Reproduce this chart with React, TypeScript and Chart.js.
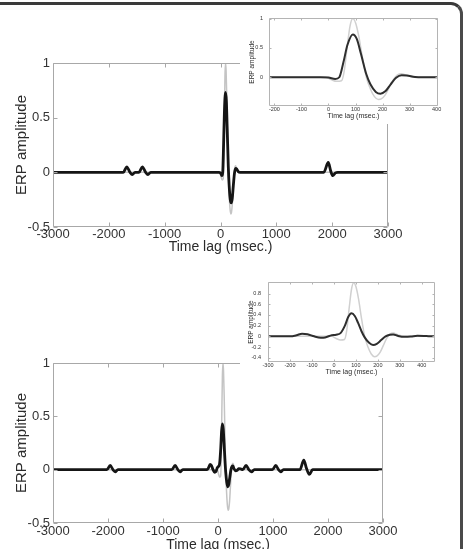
import React, { useEffect, useRef } from "react";
import { Chart, registerables } from "chart.js";

Chart.register(...registerables);

const FONT = '"Liberation Sans", Arial, Helvetica, sans-serif';

// ---- data (time lag in msec, ERP amplitude) ----
// true ERP waveform (light gray)
const erpTimes = [-3000, -300, -10, 10, 30, 48, 58, 70, 80, 90, 100, 112, 125, 140, 155, 170, 185, 195, 210, 225, 240, 255, 270, 290, 320, 460, 3000];
const erpValues = [0, 0, 0, -0.04, -0.07, -0.06, 0.1, 0.55, 0.88, 1.0, 0.93, 0.7, 0.35, 0.0, -0.2, -0.33, -0.38, -0.37, -0.3, -0.17, -0.04, 0.04, 0.06, 0.03, 0, 0, 0];

// estimated ERP, upper panel (black)
const estTopTimes = [-3000, -1740, -1680, -1620, -1580, -1530, -1460, -1400, -1340, -1300, -1250, -30, 0, 25, 40, 55, 70, 90, 105, 120, 140, 155, 175, 192, 210, 230, 250, 270, 290, 320, 350, 1850, 1930, 1975, 2010, 2060, 2100, 3000];
const estTopValues = [0, 0, 0.05, 0, -0.02, 0, 0, 0.05, 0, -0.02, 0, 0, -0.005, -0.03, 0, 0.25, 0.55, 0.73, 0.65, 0.4, 0.05, -0.12, -0.25, -0.28, -0.24, -0.12, -0.01, 0.035, 0.03, 0.005, 0, 0, 0.09, 0.01, -0.03, -0.005, 0, 0];

// estimated ERP, lower panel (black)
const estBottomTimes = [-3000, -2020, -1960, -1910, -1870, -1820, -840, -780, -730, -690, -640, -200, -170, -145, -120, -90, -60, -40, -10, 10, 30, 50, 65, 80, 95, 110, 125, 140, 160, 178, 195, 215, 235, 255, 270, 290, 320, 350, 380, 420, 450, 510, 560, 610, 660, 990, 1050, 1100, 1140, 1190, 1490, 1560, 1610, 1660, 1720, 3000];
const estBottomValues = [0, 0, 0.04, 0, -0.02, 0, 0, 0.04, 0, -0.02, 0, 0, 0.02, 0.05, 0.04, 0, -0.025, -0.02, 0.02, 0.03, 0.06, 0.2, 0.36, 0.43, 0.38, 0.25, 0.1, -0.02, -0.12, -0.16, -0.14, -0.07, 0, 0.03, 0.035, 0.01, -0.01, -0.005, 0.01, 0.005, 0, 0.04, 0, -0.02, 0, 0, 0.04, 0, -0.02, 0, 0, 0.09, 0.01, -0.045, 0, 0];

// tick labels
const mainXTicks = [-3000, -2000, -1000, 0, 1000, 2000, 3000];
const mainYTicks = [-0.5, 0, 0.5, 1];
const insetTopXTicks = [-200, -100, 0, 100, 200, 300, 400];
const insetTopYTicks = [0, 0.5, 1];
const insetBottomXTicks = [-300, -200, -100, 0, 100, 200, 300, 400];
const insetBottomYTicks = [-0.4, -0.2, 0, 0.2, 0.4, 0.6, 0.8];

const X_TITLE = "Time lag (msec.)";
const Y_TITLE = "ERP amplitude";

function pts(xs: number[], ys: number[]) {
  return xs.map((x, i) => ({ x, y: ys[i] }));
}

const boxPlugin = {
  id: "matlabBox",
  afterDatasetsDraw(chart: any, _args: any, opts: any) {
    const { ctx, chartArea: a, scales } = chart;
    ctx.save();
    ctx.strokeStyle = opts.color;
    ctx.lineWidth = 1;
    const l = Math.round(a.left) + 0.5;
    const r = Math.round(a.right) - 0.5;
    const t = Math.round(a.top) + 0.5;
    const b = Math.round(a.bottom) - 0.5;
    ctx.beginPath();
    ctx.rect(l, t, r - l, b - t);
    const L = opts.len;
    scales.x.ticks.forEach((tk: any) => {
      const p = Math.round(scales.x.getPixelForValue(tk.value)) + 0.5;
      ctx.moveTo(p, b);
      ctx.lineTo(p, b - L);
      ctx.moveTo(p, t);
      ctx.lineTo(p, t + L);
    });
    scales.y.ticks.forEach((tk: any) => {
      const p = Math.round(scales.y.getPixelForValue(tk.value)) + 0.5;
      ctx.moveTo(l, p);
      ctx.lineTo(l + L, p);
      ctx.moveTo(r, p);
      ctx.lineTo(r - L, p);
    });
    ctx.stroke();
    ctx.restore();
  },
};

type Panel = {
  canvas: { left: number; top: number; width: number; height: number };
  area: { l: number; t: number; r: number; b: number };
  xRange: [number, number];
  yRange: [number, number];
  xTicks: number[];
  yTicks: number[];
  estTimes: number[];
  estValues: number[];
  tickSize: number;
  xTitleSize: number;
  yTitleSize: number;
  yTickPad: number;
  xTickPad: number;
  yTitlePad: number;
  xTitlePad: number;
  blackWidth: number;
  grayWidth: number;
  blackColor: string;
  grayColor: string;
  boxColor: string;
  tickLen: number;
  bg: boolean;
};

const panels: Panel[] = [
  {
    canvas: { left: 0, top: 40, width: 420, height: 230 },
    area: { l: 53, t: 63, r: 388, b: 227 },
    xRange: [-3000, 3000], yRange: [-0.5, 1],
    xTicks: mainXTicks, yTicks: mainYTicks,
    estTimes: estTopTimes, estValues: estTopValues,
    tickSize: 13, xTitleSize: 14, yTitleSize: 15,
    yTickPad: 3, xTickPad: 0, yTitlePad: 13, xTitlePad: 14,
    blackWidth: 2.8, grayWidth: 1.5, blackColor: "#151515", grayColor: "#c4c4c4",
    boxColor: "#a8a8a8", tickLen: 4, bg: false,
  },
  {
    canvas: { left: 0, top: 300, width: 420, height: 260 },
    area: { l: 53, t: 363, r: 383, b: 523 },
    xRange: [-3000, 3000], yRange: [-0.5, 1],
    xTicks: mainXTicks, yTicks: mainYTicks,
    estTimes: estBottomTimes, estValues: estBottomValues,
    tickSize: 13, xTitleSize: 14, yTitleSize: 15,
    yTickPad: 3, xTickPad: 1, yTitlePad: 13, xTitlePad: 6,
    blackWidth: 2.8, grayWidth: 1.5, blackColor: "#151515", grayColor: "#c4c4c4",
    boxColor: "#a8a8a8", tickLen: 4, bg: false,
  },
  {
    canvas: { left: 240, top: 6, width: 215, height: 118 },
    area: { l: 269, t: 18, r: 438, b: 106 },
    xRange: [-220, 405], yRange: [-0.49, 1.01],
    xTicks: insetTopXTicks, yTicks: insetTopYTicks,
    estTimes: estTopTimes, estValues: estTopValues,
    tickSize: 5.5, xTitleSize: 7, yTitleSize: 6.5,
    yTickPad: 6, xTickPad: 0, yTitlePad: 8, xTitlePad: 4,
    blackWidth: 2, grayWidth: 1.5, blackColor: "#2e2e2e", grayColor: "#d0d0d0",
    boxColor: "#b4b4b4", tickLen: 2, bg: true,
  },
  {
    canvas: { left: 240, top: 272, width: 218, height: 106 },
    area: { l: 268, t: 278, r: 435, b: 362 },
    xRange: [-300, 460], yRange: [-0.48, 1.01],
    xTicks: insetBottomXTicks, yTicks: insetBottomYTicks,
    estTimes: estBottomTimes, estValues: estBottomValues,
    tickSize: 5.5, xTitleSize: 7, yTitleSize: 6.5,
    yTickPad: 7, xTickPad: 0, yTitlePad: 7, xTitlePad: 2,
    blackWidth: 2, grayWidth: 1.5, blackColor: "#2e2e2e", grayColor: "#d0d0d0",
    boxColor: "#b4b4b4", tickLen: 2, bg: true,
  },
];

function fmt(v: number) {
  return String(Math.round(v * 100) / 100);
}

function buildChart(canvas: HTMLCanvasElement, p: Panel) {
  const c = p.canvas;
  const yW = p.area.l - c.left;
  const xH = c.top + c.height - p.area.b;
  return new Chart(canvas, {
    type: "line",
    data: {
      datasets: [
        {
          // estimate (black) — drawn on top
          data: pts(p.estTimes, p.estValues),
          order: 0,
          borderColor: p.blackColor,
          borderWidth: p.blackWidth,
          pointRadius: 0,
          fill: false,
          cubicInterpolationMode: "monotone",
          borderJoinStyle: "round",
          borderCapStyle: "round",
        },
        {
          // true ERP (gray) — drawn underneath
          data: pts(erpTimes, erpValues),
          order: 1,
          borderColor: p.grayColor,
          borderWidth: p.grayWidth,
          pointRadius: 0,
          fill: false,
          cubicInterpolationMode: "monotone",
        },
      ],
    } as any,
    options: {
      responsive: false,
      maintainAspectRatio: false,
      animation: false,
      events: [],
      layout: {
        autoPadding: false,
        padding: {
          left: 0,
          top: p.area.t - c.top,
          right: c.left + c.width - p.area.r,
          bottom: 0,
        },
      },
      plugins: {
        legend: { display: false },
        tooltip: { enabled: false },
        matlabBox: { color: p.boxColor, len: p.tickLen },
      } as any,
      scales: {
        x: {
          type: "linear",
          min: p.xRange[0],
          max: p.xRange[1],
          grid: { display: false, drawTicks: false },
          border: { display: false },
          afterBuildTicks: (s: any) => {
            s.ticks = p.xTicks.map((v) => ({ value: v }));
          },
          afterFit: (s: any) => {
            s.height = xH;
          },
          ticks: {
            autoSkip: false,
            maxRotation: 0,
            minRotation: 0,
            padding: p.xTickPad,
            color: "#333",
            font: { family: FONT, size: p.tickSize },
            callback: (v: any) => fmt(Number(v)),
          },
          title: {
            display: true,
            text: X_TITLE,
            color: "#2b2b2b",
            font: { family: FONT, size: p.xTitleSize },
            padding: { top: 0, bottom: p.xTitlePad },
          },
        },
        y: {
          type: "linear",
          min: p.yRange[0],
          max: p.yRange[1],
          grid: { display: false, drawTicks: false },
          border: { display: false },
          afterBuildTicks: (s: any) => {
            s.ticks = p.yTicks.map((v) => ({ value: v }));
          },
          afterFit: (s: any) => {
            s.width = yW;
          },
          ticks: {
            autoSkip: false,
            padding: p.yTickPad,
            color: "#333",
            font: { family: FONT, size: p.tickSize },
            callback: (v: any) => fmt(Number(v)),
          },
          title: {
            display: true,
            text: Y_TITLE,
            color: "#2b2b2b",
            font: { family: FONT, size: p.yTitleSize },
            padding: { top: p.yTitlePad, bottom: 0 },
          },
        },
      },
    } as any,
    plugins: [boxPlugin as any],
  });
}

function PanelCanvas({ p }: { p: Panel }) {
  const ref = useRef<HTMLCanvasElement | null>(null);
  useEffect(() => {
    if (!ref.current) return;
    const chart = buildChart(ref.current, p);
    return () => chart.destroy();
  }, [p]);
  return (
    <canvas
      ref={ref}
      width={p.canvas.width}
      height={p.canvas.height}
      style={{
        position: "absolute",
        left: p.canvas.left,
        top: p.canvas.top,
        width: p.canvas.width,
        height: p.canvas.height,
        background: p.bg ? "#fff" : "transparent",
      }}
    />
  );
}

export default function App() {
  return (
    <div
      style={{
        position: "fixed",
        left: 0,
        top: 0,
        width: 465,
        height: 549,
        overflow: "hidden",
        background: "#fff",
      }}
    >
      <div
        style={{
          position: "absolute",
          left: -20,
          top: 2,
          width: 483,
          height: 620,
          boxSizing: "border-box",
          borderTop: "3px solid #3a3a3a",
          borderRight: "3px solid #4a4a4a",
          borderTopRightRadius: 12,
        }}
      />
      {panels.map((p, i) => (
        <PanelCanvas key={i} p={p} />
      ))}
    </div>
  );
}
